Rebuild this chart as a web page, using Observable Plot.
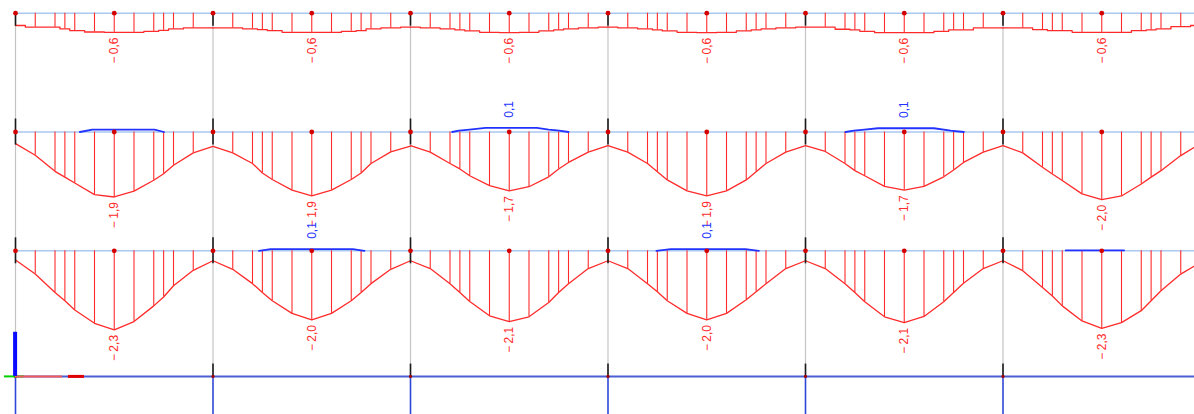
<!DOCTYPE html>
<html><head><meta charset="utf-8">
<script src="https://cdn.jsdelivr.net/npm/d3@7"></script>
<script src="https://cdn.jsdelivr.net/npm/@observablehq/plot@0.6"></script>
<style>html,body{margin:0;padding:0;background:#fff;overflow:hidden}</style>
</head><body><div id="chart"></div>
<script>
// stations along each span (fraction of span length)
const stations = [0, 0.1, 0.2, 0.25, 0.3, 0.4, 0.5, 0.6, 0.7, 0.75, 0.8, 0.9, 1];
const nodes = [0, 1, 2, 3, 4, 5, 6];

// bending moment values per span, row 1 (top beam)
const row1Values = [
  [-0.36,-0.41,-0.41,-0.46,-0.51,-0.55,-0.56,-0.56,-0.53,-0.50,-0.46,-0.43,-0.43],
  [-0.43,-0.43,-0.46,-0.48,-0.51,-0.56,-0.56,-0.56,-0.53,-0.51,-0.46,-0.43,-0.41],
  [-0.41,-0.43,-0.46,-0.49,-0.52,-0.56,-0.57,-0.56,-0.52,-0.49,-0.46,-0.43,-0.41],
  [-0.41,-0.43,-0.46,-0.49,-0.52,-0.56,-0.57,-0.56,-0.52,-0.49,-0.46,-0.43,-0.41],
  [-0.41,-0.41,-0.47,-0.49,-0.53,-0.57,-0.57,-0.57,-0.53,-0.49,-0.49,-0.43,-0.43],
  [-0.43,-0.43,-0.48,-0.51,-0.51,-0.56,-0.56,-0.56,-0.51,-0.49,-0.46,-0.39,-0.36]
];
const row2Values = [
  [-0.34,-0.68,-1.15,-1.32,-1.49,-1.83,-1.90,-1.73,-1.41,-1.22,-0.97,-0.61,-0.42],
  [-0.42,-0.61,-0.92,-1.20,-1.39,-1.70,-1.87,-1.70,-1.39,-1.20,-0.92,-0.58,-0.41],
  [-0.40,-0.59,-0.92,-1.08,-1.28,-1.57,-1.72,-1.60,-1.31,-1.08,-0.89,-0.59,-0.40],
  [-0.40,-0.59,-0.92,-1.16,-1.40,-1.72,-1.87,-1.72,-1.40,-1.16,-0.92,-0.59,-0.40],
  [-0.40,-0.57,-0.92,-1.13,-1.28,-1.59,-1.70,-1.59,-1.31,-1.11,-0.89,-0.59,-0.40],
  [-0.40,-0.61,-1.03,-1.23,-1.42,-1.81,-1.98,-1.87,-1.52,-1.32,-1.13,-0.69,-0.34]
];
const row3Values = [
  [-0.27,-0.68,-1.22,-1.46,-1.73,-2.12,-2.31,-2.07,-1.61,-1.35,-1.02,-0.57,-0.29],
  [-0.29,-0.54,-0.96,-1.22,-1.46,-1.83,-2.02,-1.83,-1.46,-1.22,-0.96,-0.54,-0.29],
  [-0.29,-0.52,-0.96,-1.22,-1.48,-1.90,-2.07,-1.93,-1.51,-1.22,-0.96,-0.52,-0.29],
  [-0.29,-0.52,-0.96,-1.20,-1.46,-1.83,-2.02,-1.83,-1.43,-1.20,-0.96,-0.52,-0.29],
  [-0.29,-0.52,-0.96,-1.22,-1.49,-1.93,-2.10,-1.92,-1.49,-1.22,-0.95,-0.52,-0.29],
  [-0.29,-0.58,-1.07,-1.32,-1.61,-2.05,-2.27,-2.10,-1.75,-1.46,-1.17,-0.68,-0.34]
];

// minimum value labels per span
const row1Labels = ["-0,6","-0,6","-0,6","-0,6","-0,6","-0,6"];
const row2Labels = ["-1,9","-1,9","-1,7","-1,9","-1,7","-2,0"];
const row3Labels = ["-2,3","-2,0","-2,1","-2,0","-2,1","-2,3"];

// positive envelope pieces (blue)
const row2Positive = [
  {span: 0, t: [0.326, 0.389, 0.704, 0.752], v: [0, 0.07, 0.07, 0], label: null},
  {span: 2, t: [0.211, 0.245, 0.299, 0.38, 0.64, 0.70, 0.753, 0.80], v: [0, 0.04, 0.07, 0.12, 0.12, 0.07, 0.04, 0], label: "0,1"},
  {span: 4, t: [0.203, 0.245, 0.299, 0.367, 0.65, 0.735, 0.802], v: [0, 0.04, 0.07, 0.11, 0.11, 0.04, 0], label: "0,1"}
];
const row3Positive = [
  {span: 1, t: [0.233, 0.292, 0.708, 0.767], v: [0, 0.05, 0.05, 0], label: "0,1"},
  {span: 3, t: [0.245, 0.317, 0.696, 0.764], v: [0, 0.05, 0.05, 0], label: "0,1"},
  {span: 5, t: [0.318, 0.613], v: [0.01, 0.01], label: null}
];

// ---- layout (drawing units: 1 = 1 moment unit vertically, 1 = one span in x) ----
const ROW_GAP = 3.474;
const GROUND = -10.62;
const rows = [row1Values, row2Values, row3Values];
const labelsByRow = [row1Labels, row2Labels, row3Labels];
const positiveByRow = [[], row2Positive, row3Positive];
const level = r => -r * ROW_GAP;

const RED = "#ff2b2b", BLUE = "#2233ff", FONT = "Liberation Sans, Arial, sans-serif";

const curvePts = [], hatch = [], redText = [], bluePts = [], blueText = [];
rows.forEach((spansVals, r) => {
  spansVals.forEach((vals, s) => {
    stations.forEach((t, i) => {
      curvePts.push({x: s + t, y: level(r) + vals[i], key: r + "-" + s, row: r});
      if (i > 0 && i < stations.length - 1) hatch.push({x: s + t, y1: level(r), y2: level(r) + vals[i]});
    });
    redText.push({x: s + 0.5, y: level(r) + d3.min(vals) - 0.15, text: labelsByRow[r][s]});
  });
  positiveByRow[r].forEach(p => {
    p.t.forEach((t, i) => bluePts.push({x: p.span + t, y: level(r) + p.v[i], key: r + "-" + p.span}));
    if (p.label) blueText.push({x: p.span + 0.5, y: level(r) + d3.max(p.v) + 0.3, text: p.label});
  });
});
const rowLevels = [0, 1, 2].map(level);
const blackSegs = [];
nodes.forEach(n => {
  rowLevels.forEach((L, r) => blackSegs.push({x: n, y1: r === 0 ? L : L + 0.38, y2: L - 0.38}));
  blackSegs.push({x: n, y1: GROUND + 0.36, y2: GROUND});
});
const dotPts = [];
rowLevels.forEach(L => {
  nodes.forEach(n => dotPts.push({x: n, y: L}));
  nodes.slice(0, 6).forEach(n => dotPts.push({x: n + 0.5, y: L}));
});
const showLabel = s => s.replace(/^-/, "\u2212\u2009");

const plot = Plot.plot({
  width: 1194, height: 414,
  margin: 0,
  x: {domain: [0, 6], range: [15, 1200], axis: null},
  y: {domain: [-11.734, 0.371], range: [414, 0], axis: null},
  marks: [
    Plot.ruleX(nodes, {x: d => d, y1: 0, y2: GROUND, stroke: "#c4c4c4", strokeWidth: 1.2}),
    Plot.ruleX(nodes, {x: d => d, y1: GROUND, y2: -11.9, stroke: "#2f47d8", strokeWidth: 1.6}),
    Plot.ruleY(rowLevels, {y: d => d, x1: 0, x2: 6, stroke: "#a9c9f0", strokeWidth: 1.6}),
    Plot.ruleY([GROUND], {y: d => d, x1: 0, x2: 6, stroke: "#4b5fd3", strokeWidth: 2}),
    Plot.ruleX(hatch, {x: "x", y1: "y1", y2: "y2", stroke: RED, strokeWidth: 1.1}),
    Plot.line(curvePts.filter(d => d.row === 0), {x: "x", y: "y", z: "key", stroke: RED, strokeWidth: 1.3, curve: "step"}),
    Plot.line(curvePts.filter(d => d.row > 0), {x: "x", y: "y", z: "key", stroke: RED, strokeWidth: 1.3}),
    Plot.line(bluePts, {x: "x", y: "y", z: "key", stroke: BLUE, strokeWidth: 1.8}),
    Plot.ruleX(blackSegs, {x: "x", y1: "y1", y2: "y2", stroke: "#1a1a1a", strokeWidth: 1.6}),
    Plot.dot(dotPts, {x: "x", y: "y", r: 2.4, fill: "#d40000", stroke: null}),
    Plot.dot(nodes, {x: d => d, y: GROUND, r: 1.6, fill: "#a00000", stroke: null}),
    Plot.text(redText, {x: "x", y: "y", text: d => showLabel(d.text), rotate: -90, textAnchor: "end", fill: RED, fontSize: 12, fontFamily: FONT}),
    Plot.text(blueText, {x: "x", y: "y", text: "text", rotate: -90, textAnchor: "start", fill: BLUE, fontSize: 12, fontFamily: FONT}),
    // coordinate system glyph
    Plot.ruleY([GROUND], {y: d => d, x1: -0.056, x2: 0.046, stroke: "#00d000", strokeWidth: 2}),
    Plot.ruleY([GROUND], {y: d => d, x1: 0, x2: 0.238, stroke: "#f05a5a", strokeWidth: 2}),
    Plot.ruleY([GROUND], {y: d => d, x1: 0.268, x2: 0.349, stroke: "#e00000", strokeWidth: 3}),
    Plot.ruleX([0], {x: d => d - 0.002, y1: GROUND, y2: GROUND + 1.29, stroke: "#0a0aff", strokeWidth: 4})
  ]
});
document.getElementById("chart").appendChild(plot);
</script>
</body></html>
